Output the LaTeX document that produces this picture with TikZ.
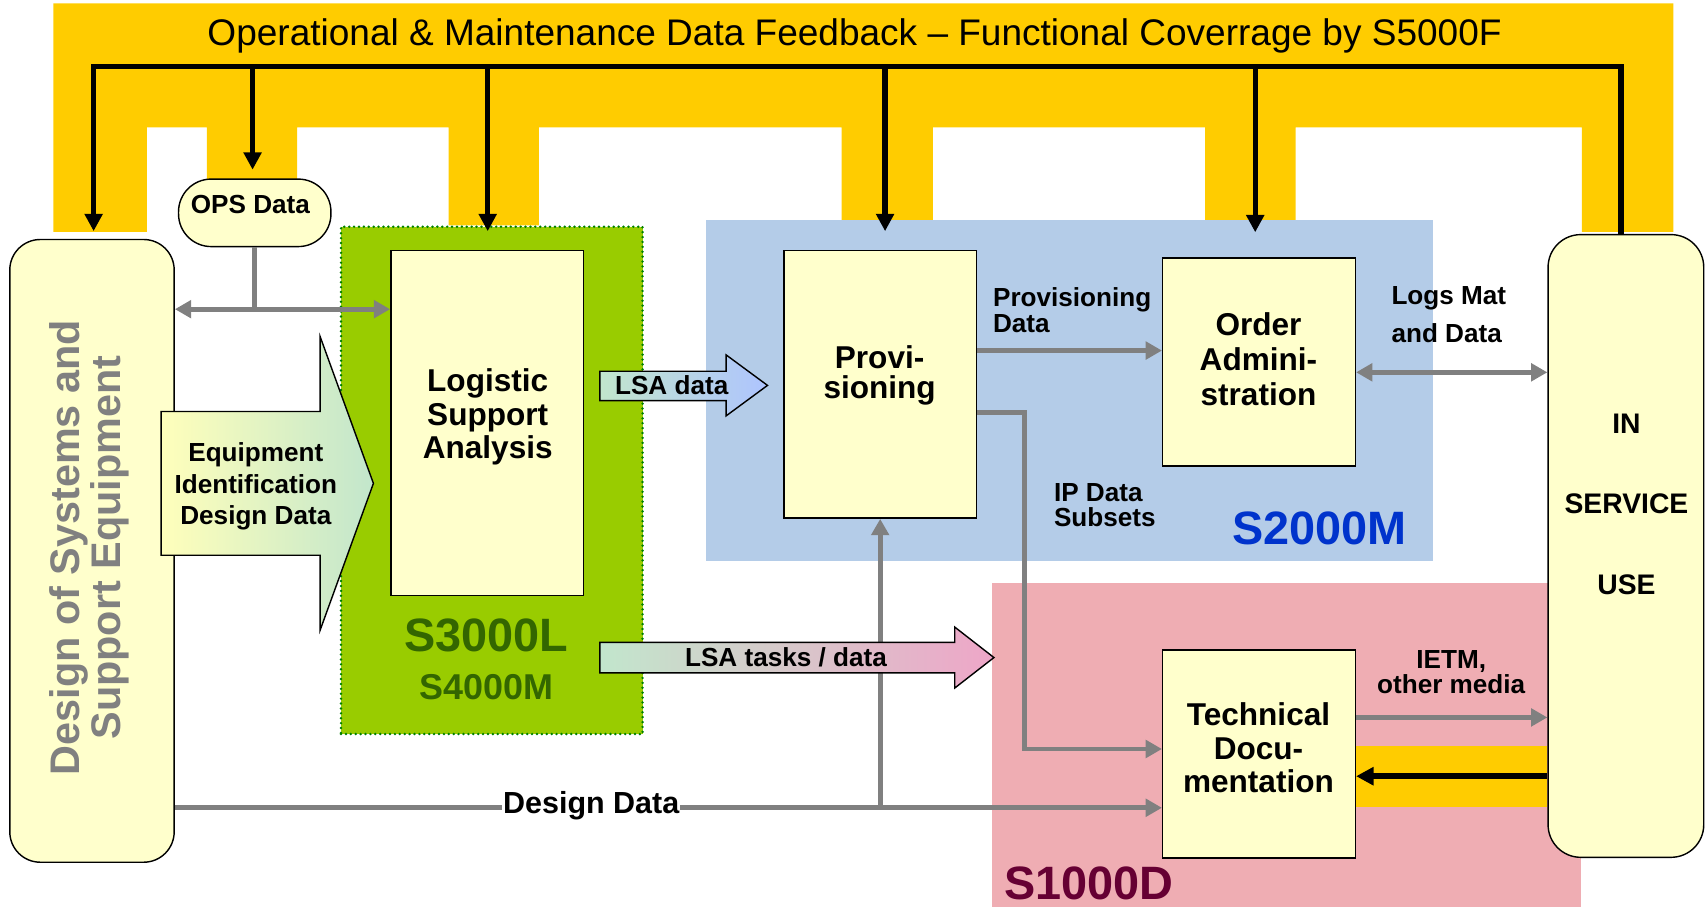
\documentclass[tikz,border=0pt]{standalone}
\usepackage{fontspec}
\setmainfont{Liberation Sans}
\usetikzlibrary{arrows.meta}
\definecolor{gold}{HTML}{FFCC00}
\definecolor{boxyel}{HTML}{FFFFCC}
\definecolor{lsagreen}{HTML}{99CC00}
\definecolor{dotgreen}{HTML}{008000}
\definecolor{sthreetxt}{HTML}{336600}
\definecolor{regblue}{HTML}{B4CCE8}
\definecolor{regpink}{HTML}{EFADB3}
\definecolor{stwotxt}{HTML}{0033CC}
\definecolor{sonetxt}{HTML}{660033}
\definecolor{lgray}{HTML}{808080}
\definecolor{arrowyel}{HTML}{FFFFBB}
\definecolor{arrowmint}{HTML}{C2E6CC}
\definecolor{arrowblue}{HTML}{AEC4FF}
\definecolor{arrowpink}{HTML}{EEA6C8}
\newcommand{\fs}[2]{\fontsize{#1}{#2}\selectfont}
\begin{document}
\begin{tikzpicture}[x=1pt,y=-1pt,
  box/.style={draw=black, line width=1.3pt, fill=boxyel, inner sep=0pt},
  region/.style={inner sep=0pt, anchor=north west},
  lbl/.style={font=\bfseries\fs{24}{24}, inner sep=0pt},
  boxtxt/.style={font=\bfseries\fs{29}{31}, align=center, inner sep=0pt},
  stxt/.style={font=\bfseries\fs{43}{43}, inner sep=0pt},
  gline/.style={draw=lgray, line width=4.5pt},
  gtip/.style={-{Triangle[length=15pt,width=16pt]}},
  gboth/.style={{Triangle[length=15pt,width=16pt]}-{Triangle[length=15pt,width=16pt]}},
  bline/.style={draw=black, line width=5pt},
  btip/.style={-{Triangle[length=16pt,width=16pt]}},
  bigarrow/.style={draw=black, line width=1.3pt}
]
\useasboundingbox (0,0) rectangle (1568,833);

% feedback band
\fill[gold] (49,3) -- (1537,3) -- (1537,213) -- (1453,213) -- (1453,117) -- (1190,117)
  -- (1190,202) -- (1107,202) -- (1107,117) -- (857,117) -- (857,202) -- (773,202)
  -- (773,117) -- (495,117) -- (495,207) -- (412,207) -- (412,117) -- (273,117)
  -- (273,165) -- (190,165) -- (190,117) -- (135,117) -- (135,213) -- (49,213) -- cycle;

% regions
\node[region, fill=regblue, minimum width=668pt, minimum height=313pt] (s2000) at (648,202) {};
\node[region, fill=regpink, minimum width=541pt, minimum height=300pt] (s1000) at (911,535) {};
\node[region, fill=lsagreen, draw=dotgreen, line width=2.5pt, line cap=round,
      dash pattern=on 0pt off 4.5pt, minimum width=277pt, minimum height=466pt] (s3000) at (312,207) {};

% boxes
\node[box, rounded corners=28pt, minimum width=151pt, minimum height=572pt] (design) at (84.5,506) {};
\node[box, rounded corners=30pt, minimum width=140pt, minimum height=62pt] (ops) at (234,195.5) {};
\node[box, minimum width=177pt, minimum height=317pt] (lsa) at (447.5,388.5) {};
\node[box, minimum width=177pt, minimum height=246pt] (prov) at (808.5,353) {};
\node[box, minimum width=177pt, minimum height=191pt] (order) at (1156.5,332.5) {};
\node[box, minimum width=177pt, minimum height=191pt] (tech) at (1156.5,692.5) {};
\node[box, rounded corners=30pt, minimum width=143pt, minimum height=572pt] (insvc) at (1493.5,501.5) {};

% lower feedback band
\fill[gold] (tech.east |- 0,685) rectangle (insvc.west |- 0,741);

% design data riser (behind the LSA tasks arrow)
\draw[gline, gtip] (prov.south |- 0,742) -- (prov.south);

% big arrows
\draw[bigarrow, left color=arrowyel, right color=arrowmint]
  (148,378) -- (294,378) -- (294,309) -- (343,444) -- (294,579) -- (294,510) -- (148,510) -- cycle;
\draw[bigarrow, left color=arrowmint, right color=arrowblue]
  (551,341) -- (667,341) -- (667,326) -- (705,354) -- (667,382) -- (667,368) -- (551,368) -- cycle;
\draw[bigarrow, left color=arrowmint, right color=arrowpink]
  (551,590) -- (877,590) -- (877,576) -- (913,604) -- (877,632) -- (877,618) -- (551,618) -- cycle;

% texts
\node[font=\fs{34}{34}, inner sep=0pt] (title) at (785,33)
  {Operational \& Maintenance Data Feedback \textendash{} Functional Coverrage by S5000F};
\node[rotate=90, text=lgray, font=\bfseries\fs{38}{37}, align=center, inner sep=0pt] (designtxt)
  at (82,503) {Design of Systems and\\Support Equipment};
\node[lbl] (opstxt) at (230,188) {OPS Data};
\node[boxtxt] (lsatxt) at (448,383) {Logistic\\Support\\Analysis};
\node[boxtxt, font=\bfseries\fs{29}{28}] (provtxt) at (808,345) {Provi-\\sioning};
\node[boxtxt, font=\bfseries\fs{29}{32}] (ordertxt) at (1156,330) {Order\\Admini-\\stration};
\node[boxtxt] (techtxt) at (1156,687) {Technical\\Docu-\\mentation};
\node[font=\bfseries\fs{26}{74}, align=center, inner sep=0pt] (insvctxt) at (1494,463) {IN\\SERVICE\\USE};
\node[lbl, align=center, font=\bfseries\fs{24}{29}] (eqtxt) at (235,447) {Equipment\\Identification\\Design Data};
\node[lbl] (lsadtxt) at (617,354) {LSA data};
\node[lbl] (lsattxt) at (722,604) {LSA tasks / data};
\node[lbl, align=left, anchor=west, font=\bfseries\fs{24}{23.5}] (provdtxt) at (912,285) {Provisioning\\Data};
\node[lbl, align=left, anchor=west, font=\bfseries\fs{24}{23.5}] (ipdtxt) at (968,464) {IP Data\\Subsets};
\node[lbl, align=left, anchor=west, font=\bfseries\fs{24}{35}] (logstxt) at (1278,289) {Logs Mat\\and Data};
\node[lbl, align=center, font=\bfseries\fs{24}{23}] (ietmtxt) at (1333,617) {IETM,\\other media};
\node[stxt, text=sthreetxt] (s3l) at (447,584) {S3000L};
\node[stxt, font=\bfseries\fs{33}{33}, text=sthreetxt] (s4m) at (447,631) {S4000M};
\node[stxt, text=stwotxt] (s2m) at (1212,485) {S2000M};
\node[stxt, text=sonetxt] (s1d) at (1000,811) {S1000D};

% gray connectors
\coordinate (opsj) at (ops.south |- 0,284);
\draw[gline] (ops.south) -- (opsj);
\draw[gline, gboth] (design.east |- opsj) -- (lsa.west |- opsj);
\draw[gline, gtip] (prov.east |- 0,322) -- (order.west |- 0,322);
\draw[gline, gboth] (order.east |- 0,342) -- (insvc.west |- 0,342);
\coordinate (ipa) at (941,379);
\coordinate (ipb) at (941,688);
\draw[gline, gtip] (prov.east |- ipa) -- (ipa) -- (ipb) -- (tech.west |- ipb);
\draw[gline, gtip] (design.east |- 0,742) -- node[pos=0.4218, yshift=2pt, fill=white, inner xsep=1pt, inner ysep=1pt,
   font=\bfseries\fs{28}{28}] (ddtxt) {Design Data} (tech.west |- 0,742);
\draw[gline, gtip] (tech.east |- 0,659) -- (insvc.west |- 0,659);

% black feedback connectors
\coordinate (fbl) at (86,61);
\coordinate (fbo) at (232,61);
\coordinate (fb3) at (448,61);
\coordinate (fb4) at (813,61);
\coordinate (fb5) at (1153,61);
\coordinate (fbr) at (1489,61);
\draw[bline, btip, shorten >=7pt] (fbr |- insvc.north) -- (fbr) -- (fbl) -- (fbl |- design.north);
\draw[bline, btip, shorten >=8pt] (fbo) -- (fbo |- ops.north);
\draw[bline, btip, shorten >=17pt] (fb3) -- (fb3 |- lsa.north);
\draw[bline, btip, shorten >=17pt] (fb4) -- (fb4 |- prov.north);
\draw[bline, btip, shorten >=23pt] (fb5) -- (fb5 |- order.north);
\draw[bline, btip] (insvc.west |- 0,713) -- (tech.east |- 0,713);
\end{tikzpicture}
\end{document}
